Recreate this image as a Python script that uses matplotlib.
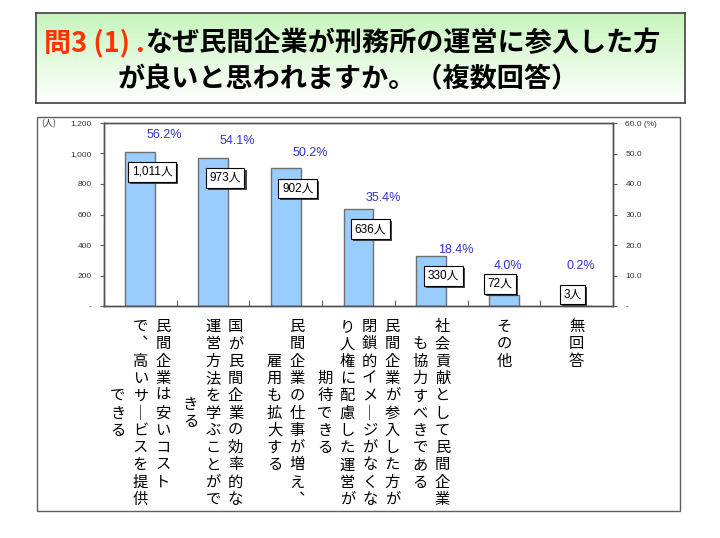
import matplotlib
matplotlib.use("Agg")
import matplotlib.pyplot as plt
import matplotlib.patheffects as pe
from matplotlib.patches import Rectangle
import numpy as np

# ---------------- data ----------------
category_lines = [
    ["民間企業は安いコスト　", "で、高いサービスを提供", "できる"],
    ["国が民間企業の効率的な", "運営方法を学ぶことがで", "きる"],
    ["民間企業の仕事が増え、", "雇用も拡大する"],
    ["民間企業が参入した方が", "閉鎖的イメージがなくな", "り人権に配慮した運営が", "期待できる"],
    ["社会貢献として民間企業", "も協力すべきである"],
    ["その他"],
    ["無回答"],
]
counts = [1011, 973, 902, 636, 330, 72, 3]
percents = [56.2, 54.1, 50.2, 35.4, 18.4, 4.0, 0.2]
count_labels = ["1,011人", "973人", "902人", "636人", "330人", "72人", "3人"]

left_ticks = [0, 200, 400, 600, 800, 1000, 1200]
left_tick_labels = ["-", "200", "400", "600", "800", "1,000", "1,200"]
right_ticks = [0, 10, 20, 30, 40, 50, 60]
right_tick_labels = ["-", "10.0", "20.0", "30.0", "40.0", "50.0", "60.0 (%)"]
left_unit = "(人)"

title_prefix = "問3 (1) ."
title_rest = "なぜ民間企業が刑務所の運営に参入した方"
title_line2 = "が良いと思われますか。（複数回答）"

# ---------------- style ----------------
CJK = ["Noto Sans CJK JP", "DejaVu Sans"]
LAT = ["Liberation Sans", "Noto Sans CJK JP", "DejaVu Sans"]
W, H = 720, 538
BAR_COLOR = "#99CCFF"
PCT_COLOR = "#3333CC"
TITLE_FS = 19.5

fig = plt.figure(figsize=(W / 100, H / 100), dpi=100)
fig.patch.set_facecolor("white")


def fx(px):
    return px / W


def fy(py):
    return 1 - py / H


# title box with green gradient
tax = fig.add_axes([fx(36), fy(103), fx(685) - fx(36), fy(13) - fy(103)])
grad = np.linspace(0, 1, 256).reshape(-1, 1)
top_c = np.array([0.78, 0.96, 0.74])
bot_c = np.array([1.0, 1.0, 1.0])
img = top_c[None, None, :] * (1 - grad[:, :, None]) + bot_c[None, None, :] * grad[:, :, None]
tax.imshow(img, aspect="auto", extent=[0, 1, 0, 1], origin="upper")
tax.set_xticks([])
tax.set_yticks([])
for s in tax.spines.values():
    s.set_color("#404040")
    s.set_linewidth(1.2)

t1 = fig.text(fx(44), fy(51), title_prefix, color="#FF3300", fontsize=TITLE_FS,
              fontweight="bold", family=CJK, ha="left", va="baseline")
fig.canvas.draw()
bb = t1.get_window_extent(renderer=fig.canvas.get_renderer())
fig.text(bb.x1 / W, fy(51), title_rest, color="black", fontsize=TITLE_FS,
         fontweight="bold", family=CJK, ha="left", va="baseline")
fig.text(fx(118), fy(87), title_line2, color="black", fontsize=TITLE_FS,
         fontweight="bold", family=CJK, ha="left", va="baseline")

# chart outer frame
fig.patches.append(Rectangle((fx(37), fy(511)), fx(680) - fx(37), fy(117) - fy(511),
                             transform=fig.transFigure, fill=False,
                             edgecolor="#606060", linewidth=1.0))

# main axes
ax = fig.add_axes([fx(104), fy(306), fx(613) - fx(104), fy(123) - fy(306)])
x = np.arange(len(counts))
ax.bar(x, counts, width=0.41, color=BAR_COLOR, edgecolor="#707070", linewidth=1.0, zorder=2)
ax.set_xlim(-0.5, len(counts) - 0.5)
ax.set_ylim(0, 1200)
ax.set_yticks(left_ticks)
ax.set_yticklabels(left_tick_labels, family=LAT, fontsize=6, color="#333333")
ax.set_xticks(np.arange(-0.5, len(counts), 1.0))
ax.tick_params(axis="x", direction="in", length=4, color="#606060", labelbottom=False)
ax.tick_params(axis="y", direction="out", length=3, color="#606060", pad=6)
for s in ax.spines.values():
    s.set_color("#505050")
    s.set_linewidth(1.0)

ax2 = ax.twinx()
ax2.set_ylim(0, 60)
ax2.set_yticks(right_ticks)
ax2.set_yticklabels(right_tick_labels, family=LAT, fontsize=6, color="#333333")
ax2.tick_params(axis="y", direction="out", length=3, color="#606060", pad=6)
ax2.tick_params(axis="x", bottom=False, top=False, labelbottom=False)
for s in ax2.spines.values():
    s.set_color("#505050")
    s.set_linewidth(1.0)

fig.text(fx(41), fy(124), left_unit, family=CJK, fontsize=6.5, color="#333333",
         ha="left", va="center")

# count label boxes
for i, (c, lab) in enumerate(zip(counts, count_labels)):
    if c >= 150:
        dx, dy = 8.6, -14.5
    else:
        dx, dy = -3.0, 8.0
    t = ax.annotate(lab, xy=(i, c), xytext=(dx, dy), textcoords="offset points",
                    ha="center", va="center", fontsize=8.5, family=LAT, color="black",
                    zorder=5, annotation_clip=False,
                    bbox=dict(boxstyle="square,pad=0.32", fc="white", ec="black", lw=0.8))
    t.get_bbox_patch().set_path_effects([
        pe.SimplePatchShadow(offset=(1.5, -1.5), shadow_rgbFace="#333333", alpha=0.9),
        pe.Normal()])

# percentage labels
for i, (c, p) in enumerate(zip(counts, percents)):
    dx = 17.5 if c >= 150 else 3.0
    ax2.annotate(f"{p:.1f}%", xy=(i, max(p, 13.0)), xytext=(dx, 0),
                 textcoords="offset points", ha="center", va="center",
                 fontsize=9, family=LAT, color=PCT_COLOR, annotation_clip=False)

# vertical (tategaki) category labels
VERT = {"ー": "｜", "、": "︑"}
COL_STEP = 16.2   # pt between columns
CHAR_STEP = 12.45  # pt between characters
TOP_GAP = 8.6      # pt below axis
for i, lines in enumerate(category_lines):
    n = len(lines)
    block = max(len(l) for l in lines)
    for j, line in enumerate(lines):
        dx = ((n - 1) / 2 - j) * COL_STEP
        k0 = (block - len(line)) / 2
        for k, ch in enumerate(line):
            if ch == "　":
                continue
            dy = -(TOP_GAP + (k0 + k + 0.5) * CHAR_STEP)
            ax.annotate(VERT.get(ch, ch), xy=(i, 0), xycoords=("data", "axes fraction"),
                        xytext=(dx, dy), textcoords="offset points",
                        ha="center", va="center", fontsize=11, family=CJK,
                        color="black", annotation_clip=False)

fig.savefig("out.png", dpi=100, facecolor="white")
